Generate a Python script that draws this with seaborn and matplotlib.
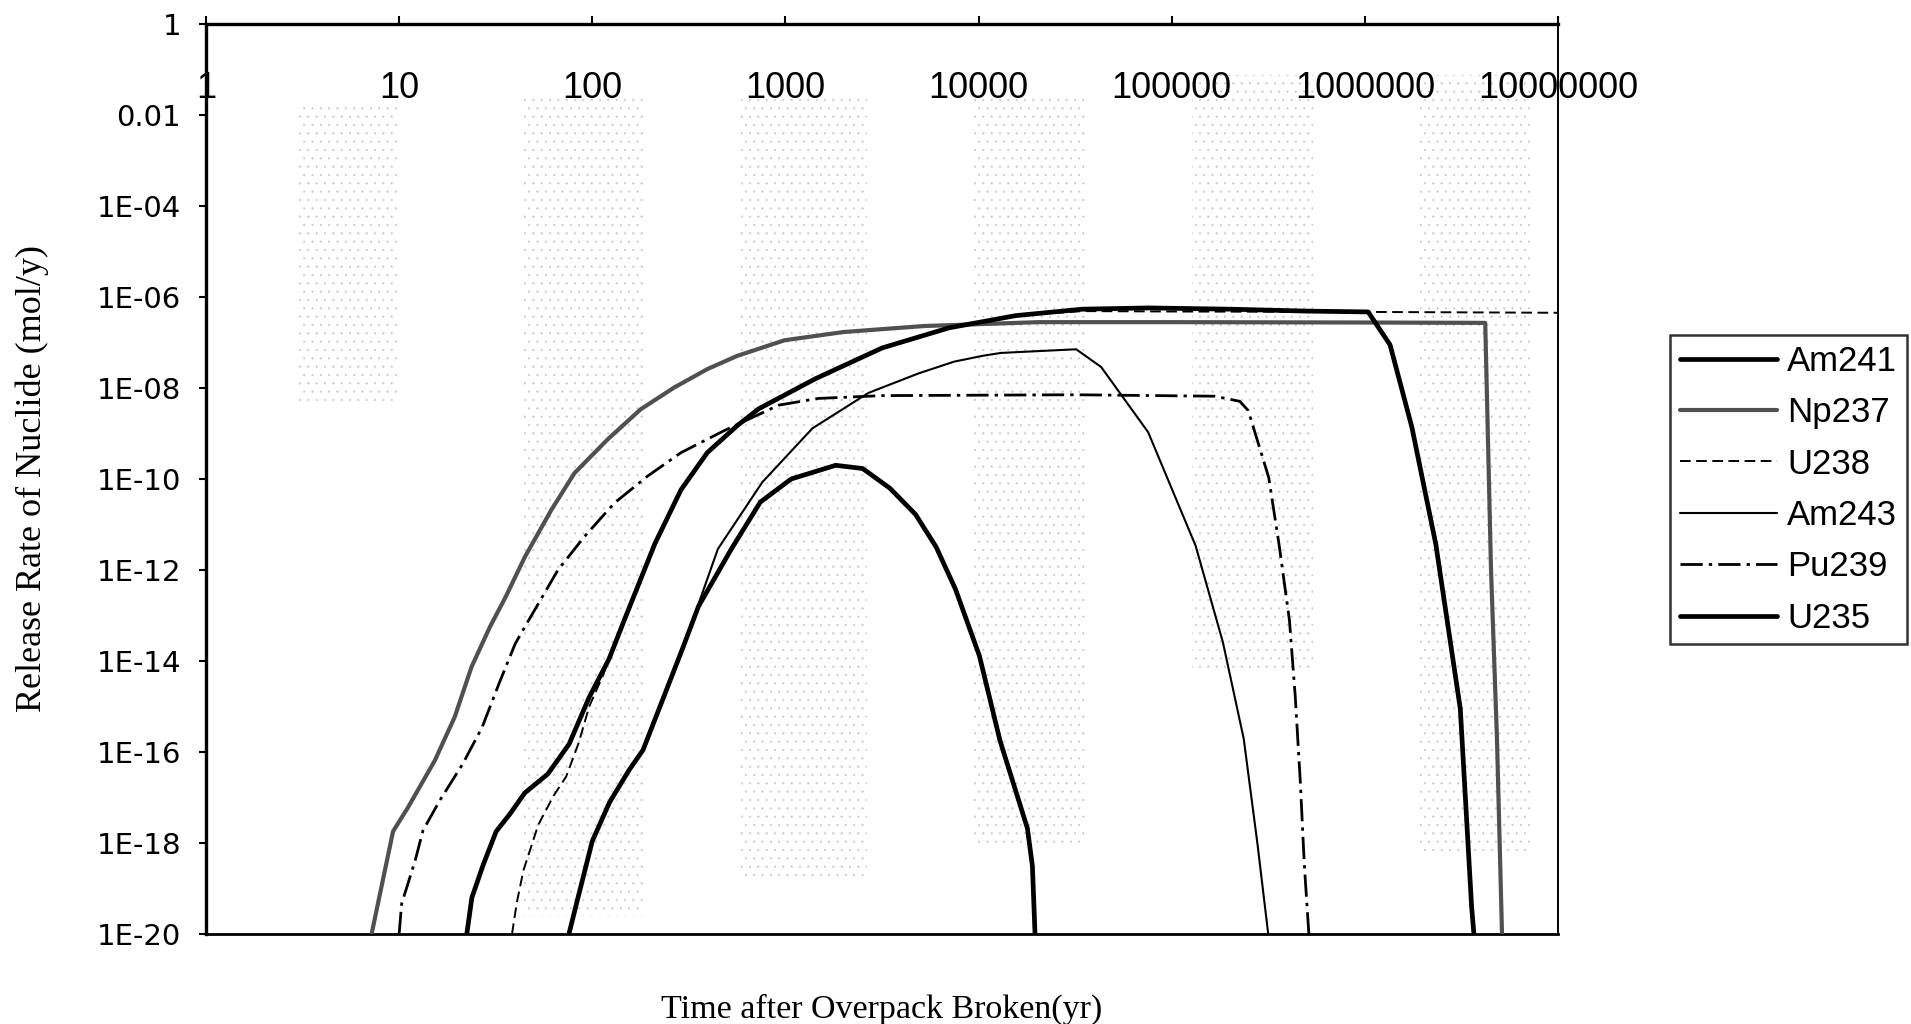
import matplotlib
matplotlib.use("Agg")
import matplotlib.pyplot as plt
from matplotlib.patches import Rectangle
from matplotlib.ticker import NullLocator
import seaborn as sns

# Release rate of nuclides (mol/y) against time after overpack failure (yr)
am241_t = [75.7, 83.2, 100, 123, 155, 183, 229, 295, 355, 525, 741, 1070, 1820,
           2510, 3470, 4720, 6030, 7590, 10100, 12900, 17900, 19000, 19600]
am241_r = [1e-20, 5e-20, 1.1e-18, 7.9e-18, 4e-17, 1.1e-16, 1.26e-15, 2e-14, 1.6e-13,
           2.9e-12, 3.1e-11, 1.0e-10, 2.0e-10, 1.7e-10, 6.3e-11, 1.66e-11, 3.2e-12,
           3.8e-13, 1.3e-14, 1.8e-16, 2.1e-18, 3.1e-19, 1e-20]

np237_t = [7.2, 9.3, 11.1, 15.3, 19.4, 23.7, 29.5, 35.5, 44.8, 61.4, 80.9, 120, 178,
           265, 394, 564, 990, 2000, 5210, 20400, 1.0e5, 1.0e6, 4.2e6, 4.5e6, 4.83e6,
           5.13e6]
np237_r = [1e-20, 1.8e-18, 6.0e-18, 6.5e-17, 5.9e-16, 7.4e-15, 5.6e-14, 2.5e-13,
           1.95e-12, 2.1e-11, 1.35e-10, 7.4e-10, 3.4e-9, 1.02e-8, 2.6e-8, 5.1e-8,
           1.12e-7, 1.7e-7, 2.3e-7, 2.8e-7, 2.8e-7, 2.75e-7, 2.7e-7, 1e-12, 2e-16,
           1e-20]

u238_t = [38.4, 40.7, 44.0, 52.5, 63.1, 73.3, 85.1, 96.4, 113, 126, 151, 209, 288,
          394, 564, 728, 1430, 3170, 7030, 15600, 34500, 1.0e5, 1.0e6, 1.0e7]
u238_r = [1e-20, 5e-20, 2.5e-19, 2.5e-18, 1.1e-17, 2.9e-17, 1.6e-16, 1e-15, 4.6e-15,
          1.6e-14, 1.1e-13, 3.2e-12, 5.8e-11, 3.8e-10, 1.5e-9, 3.5e-9, 1.6e-8, 7.6e-8,
          2.1e-7, 3.9e-7, 4.9e-7, 4.8e-7, 4.7e-7, 4.5e-7]

am243_t = [75.7, 83.2, 100, 123, 155, 183, 229, 295, 355, 447, 759, 1380, 2690, 4900,
           7480, 10500, 13060, 32000, 43100, 75500, 1.33e5, 1.84e5, 2.36e5, 2.78e5,
           3.16e5]
am243_r = [1e-20, 5e-20, 1.1e-18, 7.9e-18, 4e-17, 1.1e-16, 1.26e-15, 2e-14, 1.8e-13,
           2.9e-12, 8.5e-11, 1.3e-9, 7.8e-9, 2.1e-8, 3.8e-8, 5.1e-8, 5.9e-8, 7.1e-8,
           2.9e-8, 1.07e-9, 3.4e-12, 2.6e-14, 1.95e-16, 9.5e-19, 1e-20]

pu239_t = [10, 10.3, 12.1, 13.3, 16.2, 21.3, 26.9, 32.9, 39.9, 46.8, 66.4, 91.0, 130,
           193, 288, 481, 923, 1480, 3160, 31600, 1.67e5, 2.25e5, 2.49e5, 3.18e5,
           3.6e5, 4.07e5, 4.36e5, 4.63e5, 4.86e5, 5.13e5]
pu239_r = [1e-20, 4.6e-20, 4.1e-19, 1.9e-18, 8.5e-18, 5.4e-17, 3.5e-16, 3.2e-15,
           2.4e-14, 7.8e-14, 1.0e-12, 5.4e-12, 2.95e-11, 1.15e-10, 3.8e-10, 1.15e-9,
           4.2e-9, 5.9e-9, 6.8e-9, 7.1e-9, 6.6e-9, 5.1e-9, 3.2e-9, 1.07e-10, 3.5e-12,
           7.8e-14, 1.7e-15, 2.3e-17, 3.3e-19, 1e-20]

u235_t = [22.4, 23.8, 27.3, 31.8, 37.4, 44.7, 58.9, 75.9, 96.4, 122, 151, 211, 288,
          394, 564, 728, 1430, 3170, 7030, 15600, 34500, 76400, 2.0e5, 5.0e5, 1.04e6,
          1.35e6, 1.75e6, 2.33e6, 3.12e6, 3.57e6, 3.67e6]
u235_r = [1e-20, 6.3e-20, 3.4e-19, 1.8e-18, 4.3e-18, 1.26e-17, 3.3e-17, 1.5e-16,
          1.6e-15, 1.1e-14, 1.1e-13, 3.8e-12, 5.8e-11, 3.8e-10, 1.5e-9, 3.5e-9, 1.6e-8,
          7.6e-8, 2.1e-7, 3.9e-7, 5.4e-7, 5.75e-7, 5.4e-7, 4.9e-7, 4.7e-7, 8.9e-8,
          1.4e-9, 3.7e-12, 8.9e-16, 4e-20, 1e-20]

x_ticks = [1, 10, 100, 1000, 10000, 100000, 1000000, 10000000]
x_tick_labels = ["1", "10", "100", "1000", "10000", "100000", "1000000", "10000000"]
y_ticks = [1, 1e-2, 1e-4, 1e-6, 1e-8, 1e-10, 1e-12, 1e-14, 1e-16, 1e-18, 1e-20]
y_tick_labels = ["1", "0.01", "1E-04", "1E-06", "1E-08", "1E-10", "1E-12", "1E-14",
                 "1E-16", "1E-18", "1E-20"]

sns.set_theme(style="white")
plt.rcParams["font.family"] = ["DejaVu Sans"]
plt.rcParams["hatch.linewidth"] = 0.3

W, H = 1911, 1024
fig = plt.figure(figsize=(W / 100, H / 100), dpi=100)
fig.patch.set_facecolor("white")
L, R, T, B = 206, 1558, 24, 934
ax = fig.add_axes([L / W, 1 - B / H, (R - L) / W, (B - T) / H])
ax.set_facecolor("white")
ax.set_xscale("log")
ax.set_yscale("log")

# faint stippled bands of the printed page
bands = [(0.068, 0.585, 0.074, 0.329), (0.234, 0.020, 0.090, 0.898),
         (0.396, 0.060, 0.093, 0.858), (0.568, 0.100, 0.082, 0.818),
         (0.729, 0.288, 0.090, 0.656), (0.898, 0.087, 0.081, 0.857)]
for bx, by, bw, bh in bands:
    ax.add_patch(Rectangle((bx, by), bw, bh, transform=ax.transAxes, facecolor="none",
                           edgecolor="#c6c6c6", linewidth=0, hatch="..", zorder=0))

series = [
    ("Am241", am241_t, am241_r, dict(color="black", lw=3.4, ls="-")),
    ("Np237", np237_t, np237_r, dict(color="#505050", lw=3.0, ls="-")),
    ("U238", u238_t, u238_r, dict(color="black", lw=1.4, ls=(0, (5.5, 2.8)))),
    ("Am243", am243_t, am243_r, dict(color="black", lw=1.5, ls="-")),
    ("Pu239", pu239_t, pu239_r, dict(color="black", lw=2.0, ls=(0, (8, 2.2, 1.2, 2.2)))),
    ("U235", u235_t, u235_r, dict(color="black", lw=3.4, ls="-")),
]
for name, t, r, st in series:
    sns.lineplot(x=t, y=r, ax=ax, label=name, estimator=None, sort=False,
                 color=st["color"], linewidth=st["lw"], linestyle=st["ls"], zorder=3)

ax.set_xlim(1, 1e7)
ax.set_ylim(1e-20, 1)

ax.xaxis.tick_top()
ax.set_xticks(x_ticks)
ax.set_xticklabels(x_tick_labels, family="Liberation Sans", fontsize=26)
ax.xaxis.set_minor_locator(NullLocator())
ax.tick_params(axis="x", which="major", top=True, bottom=False, direction="out",
               length=6, width=1.5, pad=-65, colors="black")

ax.set_yticks(y_ticks)
ax.set_yticklabels(y_tick_labels, fontsize=21)
ax.yaxis.set_minor_locator(NullLocator())
ax.tick_params(axis="y", which="major", left=True, direction="out", length=5,
               width=1.5, pad=13, colors="black")

for side, lw in [("left", 2.4), ("top", 2.4), ("bottom", 2.0), ("right", 1.4)]:
    ax.spines[side].set_visible(True)
    ax.spines[side].set_color("black")
    ax.spines[side].set_linewidth(lw)

ax.set_xlabel("Time after Overpack Broken(yr)", family="Liberation Serif",
              fontsize=24.5, labelpad=43, color="black")
ax.xaxis.set_label_position("bottom")
ax.set_ylabel("Release Rate of Nuclide (mol/y)", family="Liberation Serif",
              fontsize=26, color="black")
ax.yaxis.set_label_coords(-0.116, 0.5)

leg = ax.legend(loc="upper left", bbox_to_anchor=(1670 / W, 1 - 335 / H),
                bbox_transform=fig.transFigure, frameon=True, fancybox=False,
                edgecolor="black", prop={"family": "Liberation Sans", "size": 25},
                handlelength=2.8, handletextpad=0.29, labelspacing=0.53,
                borderpad=0.28, borderaxespad=0)
leg.get_frame().set_linewidth(1.8)
for txt in leg.get_texts():
    txt.set_color("black")

fig.savefig("out.png", dpi=100, facecolor="white")
